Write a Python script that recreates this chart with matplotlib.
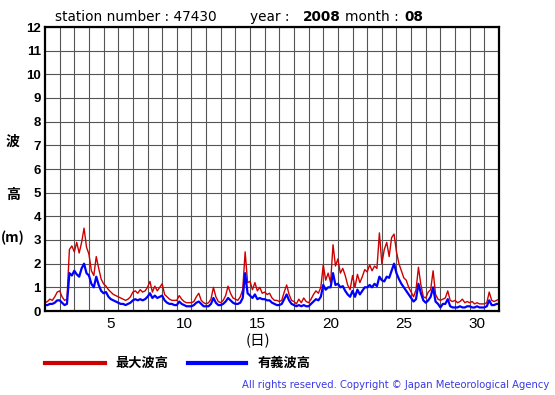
import numpy as np
import matplotlib
matplotlib.use("Agg")
import matplotlib.pyplot as plt
from matplotlib.lines import Line2D

# wave heights, 4-hour steps from Aug 1 00:00 (one row per day)
max_wave = [
    0.35, 0.4, 0.5, 0.45, 0.6, 0.8,
    0.85, 0.6, 0.45, 0.5, 2.6, 2.75,
    2.5, 2.9, 2.45, 2.9, 3.5, 2.7,
    2.4, 1.7, 1.5, 2.3, 1.8, 1.35,
    1.15, 1.05, 0.9, 0.8, 0.7, 0.65,
    0.6, 0.55, 0.5, 0.45, 0.5, 0.6,
    0.8, 0.85, 0.75, 0.9, 0.8, 0.85,
    1.0, 1.25, 0.8, 1.05, 0.85, 1.0,
    1.15, 0.7, 0.6, 0.5, 0.45, 0.45,
    0.45, 0.65, 0.5, 0.4, 0.35, 0.35,
    0.35, 0.4, 0.6, 0.75, 0.45, 0.35,
    0.3, 0.35, 0.5, 1.0, 0.6, 0.4,
    0.35, 0.45, 0.65, 1.05, 0.75, 0.55,
    0.5, 0.45, 0.6, 0.9, 2.5, 1.2,
    1.25, 0.9, 1.2, 0.85, 1.0, 0.75,
    0.8, 0.7, 0.75, 0.55, 0.45, 0.45,
    0.4, 0.45, 0.8, 1.1, 0.7, 0.45,
    0.4, 0.3, 0.5, 0.35, 0.55, 0.4,
    0.35, 0.5, 0.7, 0.85, 0.75, 1.0,
    1.95, 1.3, 1.6, 1.2, 2.8, 1.9,
    2.2, 1.6, 1.8, 1.5, 1.1, 0.9,
    1.5, 1.0, 1.55, 1.2, 1.45, 1.75,
    1.65, 1.95, 1.7, 1.9, 1.8, 3.3,
    2.0, 2.6, 2.9, 2.3, 3.1, 3.25,
    2.5, 2.0, 1.7, 1.4, 1.3, 1.0,
    0.8, 0.6, 0.9, 1.85, 1.1, 0.6,
    0.55, 0.8, 0.9, 1.7, 0.7, 0.5,
    0.45, 0.5, 0.55, 0.85, 0.45, 0.4,
    0.45, 0.35, 0.4, 0.5, 0.35, 0.4,
    0.35, 0.4, 0.3, 0.35, 0.3, 0.3,
    0.3, 0.35, 0.8, 0.45, 0.4, 0.45,
    0.5,
]
sig_wave = [
    0.25, 0.25, 0.3, 0.3, 0.35, 0.45,
    0.45, 0.35, 0.25, 0.3, 1.6, 1.5,
    1.7, 1.55, 1.45, 1.8, 2.0, 1.6,
    1.5, 1.15, 1.0, 1.45, 1.1, 0.85,
    0.75, 0.8, 0.6, 0.5, 0.45, 0.4,
    0.35, 0.3, 0.3, 0.25, 0.3, 0.35,
    0.45, 0.5, 0.45, 0.5, 0.45, 0.5,
    0.6, 0.75, 0.55, 0.65, 0.55, 0.6,
    0.65, 0.45, 0.35, 0.3, 0.3, 0.25,
    0.25, 0.4, 0.3, 0.25, 0.2, 0.2,
    0.2, 0.25, 0.35, 0.4, 0.3, 0.2,
    0.2, 0.2, 0.3, 0.55, 0.35, 0.25,
    0.25, 0.3, 0.4, 0.55, 0.45, 0.35,
    0.3, 0.3, 0.35, 0.55, 1.6, 0.75,
    0.65, 0.55, 0.7, 0.5, 0.55, 0.5,
    0.5, 0.45, 0.45, 0.35, 0.3, 0.25,
    0.25, 0.3, 0.5, 0.7, 0.45, 0.3,
    0.25, 0.2, 0.25, 0.2, 0.25, 0.2,
    0.2, 0.3, 0.4, 0.5, 0.45, 0.6,
    1.1, 0.9, 1.0, 1.0, 1.6, 1.1,
    1.15, 1.0, 1.05, 0.85, 0.7, 0.6,
    0.85, 0.6, 0.9, 0.7, 0.85, 1.0,
    1.0, 1.1, 1.0, 1.15, 1.05, 1.45,
    1.3, 1.25, 1.45, 1.4, 1.7, 2.0,
    1.6, 1.35, 1.15, 1.0, 0.85, 0.7,
    0.55, 0.4, 0.5, 1.15, 0.75, 0.45,
    0.35, 0.45, 0.6, 1.0, 0.4, 0.3,
    0.15, 0.3, 0.3, 0.5, 0.2, 0.15,
    0.15, 0.15, 0.2, 0.15, 0.15, 0.2,
    0.2, 0.15, 0.15, 0.2, 0.15, 0.15,
    0.15, 0.2, 0.45, 0.25, 0.25, 0.3,
    0.3,
]
x_ticks = [5, 10, 15, 20, 25, 30]
y_ticks = list(range(0, 13))
steps_per_day = 6

cjk = ['Noto Sans CJK JP', 'DejaVu Sans']
red = '#cc0000'
blue = '#0000ff'

fig = plt.figure(figsize=(5.55, 3.95), dpi=100)
W, H = 555, 395
ax = fig.add_axes([45 / W, 1 - 311 / H, (499 - 45) / W, (311 - 27) / H])

t = 0.5 + np.arange(len(max_wave)) / steps_per_day
ax.plot(t, max_wave, color=red, lw=1.0)
ax.plot(t, sig_wave, color=blue, lw=1.6)

ax.set_xlim(0.5, 31.5)
ax.set_ylim(0, 12)
ax.set_xticks(np.arange(1.5, 31, 1), minor=True)
ax.set_xticks(x_ticks)
ax.set_yticks(y_ticks)
ax.grid(False)
ax.grid(True, which='minor', axis='x', color='#555555', lw=0.8)
ax.grid(True, which='major', axis='y', color='#555555', lw=0.8)
ax.set_axisbelow(True)
ax.tick_params(which='both', length=0)
ax.tick_params(axis='x', pad=4)
ax.tick_params(axis='y', pad=3)
for lab in ax.get_xticklabels():
    lab.set_fontfamily('Liberation Sans')
    lab.set_fontsize(11)
for lab in ax.get_yticklabels():
    lab.set_fontfamily('Liberation Sans')
    lab.set_fontsize(9.5)
    lab.set_fontweight('bold')
for sp in ax.spines.values():
    sp.set_linewidth(1.6)
    sp.set_color('black')

# header
fy = 1 - 17 / H
hdr = dict(fontsize=9.8, va='center', family='DejaVu Sans')
fig.text(55 / W, fy, 'station number : 47430', **hdr)
fig.text(250 / W, fy, 'year :', **hdr)
fig.text(303 / W, fy, '2008', weight='bold', **hdr)
fig.text(345 / W, fy, 'month :', **hdr)
fig.text(404 / W, fy, '08', weight='bold', **hdr)

# y label
for txt, yy in [('波', 142), ('高', 195), ('(m)', 238)]:
    fig.text(13 / W, 1 - yy / H, txt, fontsize=10, ha='center', va='center',
             family=cjk, weight='bold')

fig.text(258 / W, 1 - 341 / H, '(日)', fontsize=10.5, ha='center', va='center', family=cjk)

# legend
ly = 1 - 363 / H
fig.add_artist(Line2D([45 / W, 105 / W], [ly, ly], color=red, lw=3))
fig.text(115 / W, ly, '最大波高', fontsize=9.5, va='center', family=cjk, weight='bold')
fig.add_artist(Line2D([188 / W, 246 / W], [ly, ly], color=blue, lw=3))
fig.text(258 / W, ly, '有義波高', fontsize=9.5, va='center', family=cjk, weight='bold')

fig.text(549 / W, 1 - 385 / H, 'All rights reserved. Copyright © Japan Meteorological Agency',
         fontsize=7.2, ha='right', va='center', color='#3a3ae6', family='DejaVu Sans')

fig.savefig('out.png', dpi=100)
